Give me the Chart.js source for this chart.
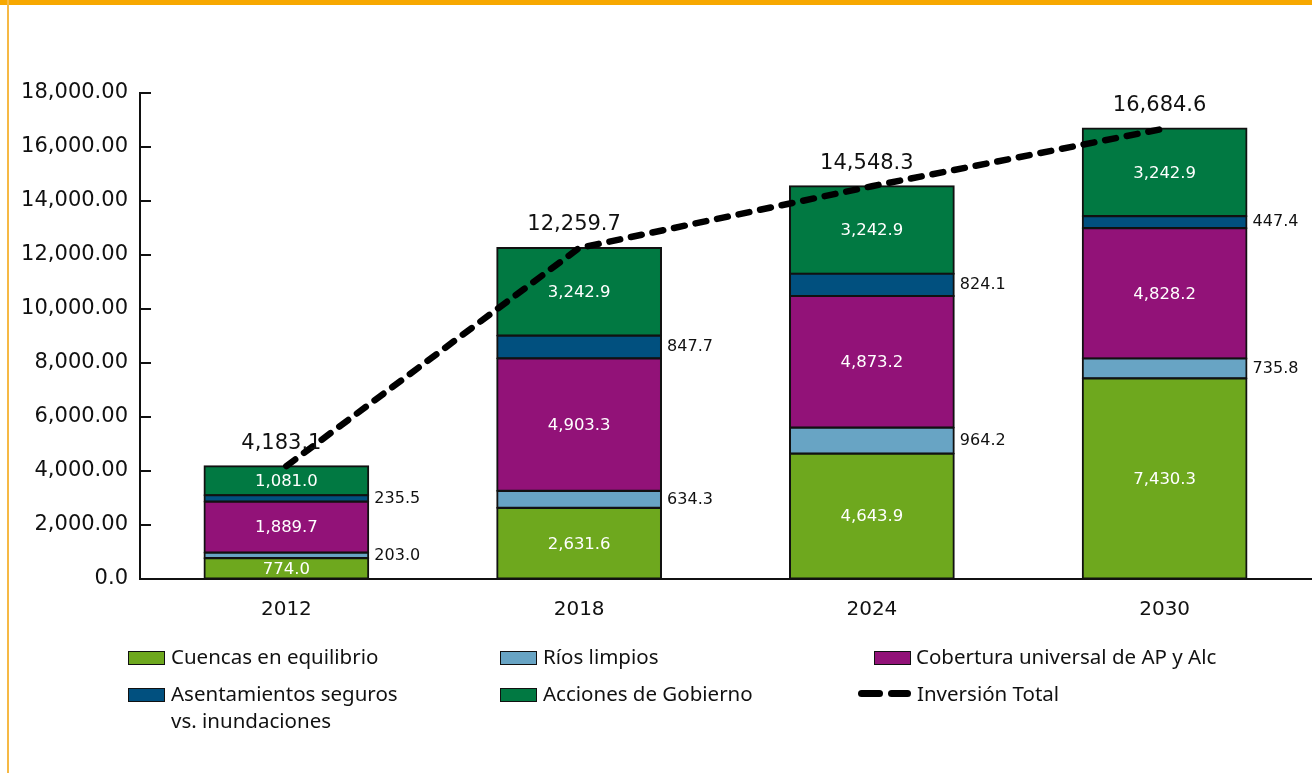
<!DOCTYPE html>
<html lang="es">
<head>
<meta charset="utf-8">
<title>Inversión Total</title>
<script src="https://cdn.jsdelivr.net/npm/chart.js@4.4.1/dist/chart.umd.min.js"></script>
<style>
  html, body { margin: 0; padding: 0; background: #fff; }
  body { width: 1312px; height: 773px; position: relative; overflow: hidden; font-family: "DejaVu Sans", sans-serif; }
  .frame-top { position: absolute; left: 0; top: 0; width: 1312px; height: 5px; background: #f7a800; }
  .frame-left { position: absolute; left: 7px; top: 0; width: 2px; height: 773px; background: #f6b945; }
  #wrap { position: absolute; left: 0; top: 0; width: 1312px; height: 640px; }
  #legend { position: absolute; left: 0; top: 0; width: 1312px; height: 773px; pointer-events: none;
            font-family: "Noto Sans", "Open Sans", sans-serif; font-size: 20.5px; color: #111; }
  .lg-item { position: absolute; display: flex; align-items: flex-start; }
  .lg-box { width: 35px; height: 12px; border: 1.5px solid #111; margin-top: 8px; flex: none; }
  .lg-line { width: 54px; height: 28px; position: relative; flex: none; }
  .lg-line span { position: absolute; top: 10px; height: 7px; background: #000; border-radius: 4px; }
  .lg-text { white-space: pre-line; line-height: 27px; }
</style>
</head>
<body>
<div class="frame-top"></div>
<div class="frame-left"></div>
<div id="wrap"><canvas id="chart"></canvas></div>
<div id="legend"></div>
<script>
// Años
const years = ['2012', '2018', '2024', '2030'];

// Componentes de la inversión (millones)
const cuencas = [774.0, 2631.6, 4643.9, 7430.3];
const rios = [203.0, 634.3, 964.2, 735.8];
const cobertura = [1889.7, 4903.3, 4873.2, 4828.2];
const asentamientos = [235.5, 847.7, 824.1, 447.4];
const acciones = [1081.0, 3242.9, 3242.9, 3242.9];
const inversionTotal = [4183.1, 12259.7, 14548.3, 16684.6];

// Etiquetas del eje vertical
const yTickValues = [0, 2000, 4000, 6000, 8000, 10000, 12000, 14000, 16000, 18000];
const yTickLabels = ['0.0', '2,000.00', '4,000.00', '6,000.00', '8,000.00', '10,000.00',
                     '12,000.00', '14,000.00', '16,000.00', '18,000.00'];

const fmt = v => v.toLocaleString('en-US', { minimumFractionDigits: 1, maximumFractionDigits: 1 });

function barSet(label, data, color, labelPos) {
  return {
    type: 'bar', label, data, backgroundColor: color, borderColor: '#111',
    borderWidth: 2, inflateAmount: 0.9, borderSkipped: false, stack: 'componentes', order: 1,
    labelPos
  };
}

// Etiquetas de valor dentro y al lado de las barras, y totales sobre la línea
const valueLabels = {
  id: 'valueLabels',
  afterDatasetsDraw(chart) {
    const ctx = chart.ctx;
    ctx.save();
    ctx.textBaseline = 'middle';
    chart.data.datasets.forEach((ds, di) => {
      const meta = chart.getDatasetMeta(di);
      if (meta.hidden) return;
      meta.data.forEach((el, i) => {
        const v = ds.data[i];
        if (ds.type === 'bar') {
          const cy = (el.y + el.base) / 2;
          if (ds.labelPos === 'inside') {
            ctx.font = '16.5px "DejaVu Sans"';
            ctx.fillStyle = '#ffffff';
            ctx.textAlign = 'center';
            ctx.fillText(fmt(v), el.x, cy + 1);
          } else {
            ctx.font = '16px "DejaVu Sans"';
            ctx.fillStyle = '#111';
            ctx.textAlign = 'left';
            ctx.fillText(fmt(v), el.x + el.width / 2 + 6, cy);
          }
        } else {
          ctx.font = '21px "DejaVu Sans"';
          ctx.fillStyle = '#111';
          ctx.textAlign = 'center';
          ctx.fillText(fmt(v), el.x - 5, el.y - 23);
        }
      });
    });
    ctx.restore();
  }
};

// Marcas del eje vertical orientadas hacia el área del gráfico
const inwardTicks = {
  id: 'inwardTicks',
  afterDraw(chart) {
    const y = chart.scales.y;
    const ctx = chart.ctx;
    ctx.save();
    ctx.strokeStyle = '#111';
    ctx.lineWidth = 2;
    yTickValues.forEach(v => {
      const py = Math.round(y.getPixelForValue(v));
      ctx.beginPath();
      ctx.moveTo(y.right, py);
      ctx.lineTo(y.right + 11, py);
      ctx.stroke();
    });
    ctx.restore();
  }
};

const chart = new Chart(document.getElementById('chart'), {
  data: {
    labels: years,
    datasets: [
      {
        type: 'line', label: 'Inversión Total', data: inversionTotal, stack: 'total', order: 0,
        borderColor: '#000', borderWidth: 6.5, borderDash: [11, 11], borderCapStyle: 'round',
        borderJoinStyle: 'round', pointRadius: 0, tension: 0, fill: false
      },
      barSet('Cuencas en equilibrio', cuencas, '#6ea81e', 'inside'),
      barSet('Ríos limpios', rios, '#68a4c4', 'side'),
      barSet('Cobertura universal de AP y Alc', cobertura, '#921278', 'inside'),
      barSet('Asentamientos seguros\nvs. inundaciones', asentamientos, '#01507f', 'side'),
      barSet('Acciones de Gobierno', acciones, '#017942', 'inside')
    ]
  },
  options: {
    responsive: true,
    maintainAspectRatio: false,
    animation: false,
    layout: { padding: { top: 93, right: 1, left: 0, bottom: 0 } },
    plugins: { legend: { display: false }, tooltip: { enabled: false } },
    datasets: { bar: { categoryPercentage: 1, barPercentage: 0.56 } },
    scales: {
      x: {
        stacked: true,
        grid: { display: false, drawTicks: false },
        border: { display: true, color: '#111', width: 2 },
        ticks: { color: '#111', font: { family: 'DejaVu Sans', size: 20 }, padding: 19 },
        afterFit(scale) { scale.height = 61; }
      },
      y: {
        stacked: true,
        min: 0, max: 18000,
        afterBuildTicks(scale) { scale.ticks = yTickValues.map(v => ({ value: v })); },
        grid: { drawOnChartArea: false, drawTicks: false },
        border: { display: true, color: '#111', width: 2 },
        ticks: {
          color: '#111', padding: 12,
          font: { family: 'DejaVu Sans', size: 21 },
          callback: (value) => yTickLabels[yTickValues.indexOf(value)]
        },
        afterFit(scale) { scale.width = 140; }
      }
    }
  },
  plugins: [valueLabels, inwardTicks]
});

// Leyenda en tres columnas, construida a partir de las series del gráfico
const legendSlots = [
  { ds: 1, left: 128, top: 643 },
  { ds: 2, left: 500, top: 643 },
  { ds: 3, left: 874, top: 643 },
  { ds: 4, left: 128, top: 680 },
  { ds: 5, left: 500, top: 680 },
  { ds: 0, left: 858, top: 680 }
];
const legendEl = document.getElementById('legend');
legendSlots.forEach(slot => {
  const ds = chart.data.datasets[slot.ds];
  const item = document.createElement('div');
  item.className = 'lg-item';
  item.style.left = slot.left + 'px';
  item.style.top = slot.top + 'px';
  let marker;
  if (ds.type === 'line') {
    marker = document.createElement('div');
    marker.className = 'lg-line';
    marker.innerHTML = '<span style="left:0;width:25px"></span><span style="left:30px;width:23px"></span>';
  } else {
    marker = document.createElement('div');
    marker.className = 'lg-box';
    marker.style.background = ds.backgroundColor;
  }
  const text = document.createElement('div');
  text.className = 'lg-text';
  text.style.marginLeft = (slot.ds === 3 || ds.type === 'line') ? '5px' : '6px';
  text.textContent = ds.label;
  item.appendChild(marker);
  item.appendChild(text);
  legendEl.appendChild(item);
});
</script>
</body>
</html>
